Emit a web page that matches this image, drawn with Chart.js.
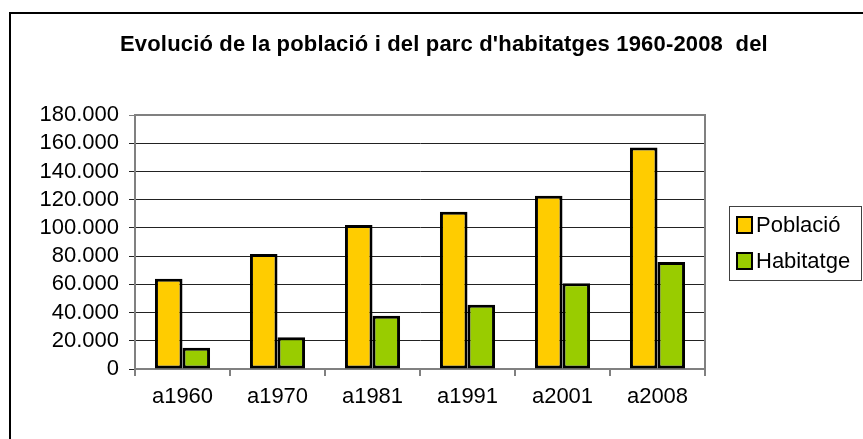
<!DOCTYPE html>
<html>
<head>
<meta charset="utf-8">
<script src="https://cdn.jsdelivr.net/npm/chart.js@4"></script>
<style>
html,body{margin:0;padding:0;background:#fff;}
#wrap{width:863px;height:439px;position:relative;}
</style>
</head>
<body>
<div id="wrap"><canvas id="c" width="863" height="439"></canvas></div>
<script>
const title = "Evolució de la població i del parc d'habitatges 1960-2008  del";
const categories = ["a1960", "a1970", "a1981", "a1991", "a2001", "a2008"];
const poblacio = [64000, 81500, 102000, 111500, 122800, 157000];
const habitatge = [15000, 22500, 37800, 45500, 60800, 75800];
const seriesNames = ["Població", "Habitatge"];
const yTicks = [0, 20000, 40000, 60000, 80000, 100000, 120000, 140000, 160000, 180000];

const FONT = "'Liberation Sans', Arial, sans-serif";

function fmt(v){
  return String(v).replace(/\B(?=(\d{3})+(?!\d))/g, ".");
}

const framePlugin = {
  id: 'frame',
  beforeDraw(chart){
    const ctx = chart.ctx;
    ctx.save();
    ctx.fillStyle = '#fff';
    ctx.fillRect(0,0,chart.width,chart.height);
    ctx.strokeStyle = '#000';
    ctx.lineWidth = 2;
    ctx.strokeRect(10, 13, 1000, 1000);
    ctx.restore();
  },
  afterDraw(chart){
    const ctx = chart.ctx;
    ctx.save();
    // title
    ctx.fillStyle = '#000';
    ctx.font = "bold 22px " + FONT;
    const w = ctx.measureText(title).width;
    const target = 648;
    if ('letterSpacing' in ctx && w < target) {
      ctx.letterSpacing = ((target - w) / (title.length - 1)).toFixed(2) + 'px';
    }
    ctx.textAlign = 'left';
    ctx.textBaseline = 'alphabetic';
    ctx.fillText(title, 120, 51, target);
    ctx.letterSpacing = '0px';
    // plot border top/right
    const a = chart.chartArea;
    ctx.strokeStyle = '#808080';
    ctx.lineWidth = 2;
    ctx.beginPath();
    ctx.moveTo(a.left, a.top);
    ctx.lineTo(a.right, a.top);
    ctx.lineTo(a.right, a.bottom);
    ctx.stroke();
    // legend
    ctx.lineWidth = 1;
    ctx.strokeStyle = '#404040';
    ctx.strokeRect(729.5, 206.5, 132, 74);
    const ds = chart.data.datasets;
    const ys = [225, 261];
    ctx.font = "22px " + FONT;
    ctx.textAlign = 'left';
    ctx.textBaseline = 'middle';
    ds.forEach((d,i)=>{
      ctx.fillStyle = d.backgroundColor;
      ctx.fillRect(737, ys[i]-8, 15, 16);
      ctx.strokeStyle = '#000';
      ctx.lineWidth = 2;
      ctx.strokeRect(737, ys[i]-8, 15, 16);
      ctx.fillStyle = '#000';
      ctx.fillText(d.label, 756, ys[i]+1);
    });
    ctx.restore();
  }
};

new Chart(document.getElementById('c'), {
  type: 'bar',
  data: {
    labels: categories,
    datasets: [
      {label: seriesNames[0], data: poblacio, backgroundColor: '#FFCC00', borderColor: '#000', borderWidth: 3, borderSkipped: false},
      {label: seriesNames[1], data: habitatge, backgroundColor: '#99CC00', borderColor: '#000', borderWidth: 3, borderSkipped: false}
    ]
  },
  options: {
    responsive: false,
    animation: false,
    devicePixelRatio: 1,
    layout: {padding: {left: 20, right: 158, top: 115, bottom: 20}},
    plugins: {legend: {display: false}, title: {display: false}, tooltip: {enabled: false}},
    datasets: {bar: {barPercentage: 1, categoryPercentage: 0.58}},
    scales: {
      x: {
        grid: {display: true, drawOnChartArea: false, drawTicks: true, tickLength: 7, color: '#808080', lineWidth: 2, offset: true},
        border: {display: true, color: '#808080', width: 2},
        ticks: {color: '#000', font: {family: FONT, size: 22}, padding: 8, maxRotation: 0},
        afterFit(s){ s.height = 50; }
      },
      y: {
        min: 0, max: 180000,
        afterBuildTicks(s){ s.ticks = yTicks.map(v=>({value:v})); },
        grid: {color: ctx => ctx.tick && ctx.tick.value === 180000 ? '#808080' : '#222', lineWidth: 1, drawTicks: true, tickLength: 6},
        border: {display: true, color: '#808080', width: 2},
        ticks: {color: '#000', font: {family: FONT, size: 22}, padding: 10, autoSkip: false, callback: v => fmt(v)},
        afterFit(s){ s.width = 115; }
      }
    }
  },
  plugins: [framePlugin]
});
</script>
</body>
</html>
